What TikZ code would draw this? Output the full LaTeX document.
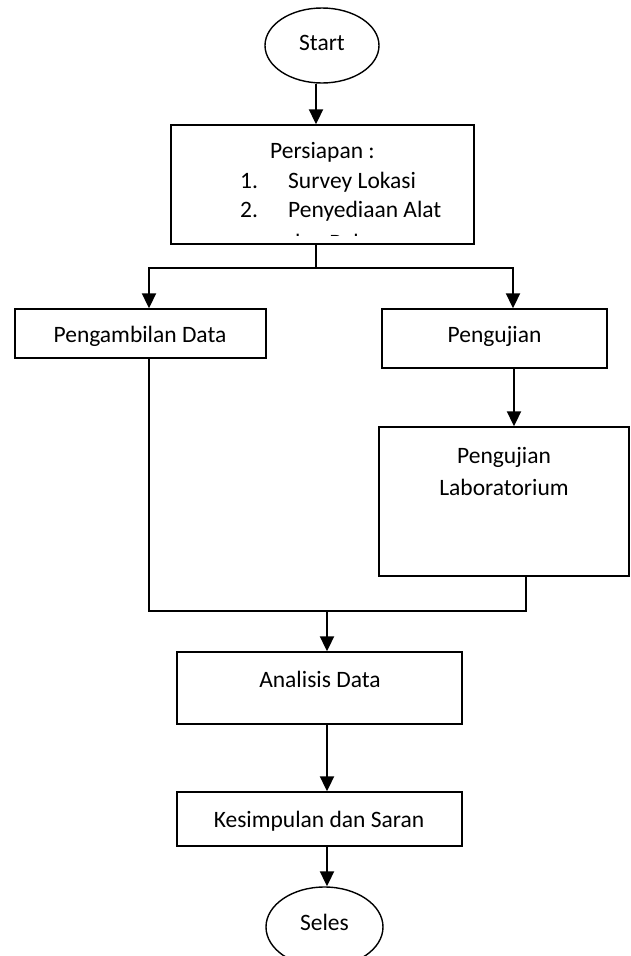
\documentclass[tikz,border=0pt]{standalone}
\usepackage{fontspec}
\setmainfont{Carlito}
\usetikzlibrary{arrows.meta,shapes.geometric}
\begin{document}
\begin{tikzpicture}[x=1pt,y=-1pt,
  box/.style={draw, line width=1.4pt, rectangle, inner sep=0pt},
  term/.style={draw, line width=1.4pt, ellipse, inner sep=0pt},
  line/.style={line width=1.6pt},
  arr/.style={line width=2pt, -{Triangle[length=15pt,width=14pt]}},
  lbl/.style={anchor=base, inner sep=0pt, font=\fontsize{23.5pt}{29pt}\selectfont}]
\useasboundingbox (0,0) rectangle (630,956);

% shapes
\node[term, minimum width=114pt, minimum height=75pt] (start) at (322,45.5) {};
\node[box, minimum width=303pt, minimum height=119pt] (prep) at (322.5,184.5) {};
\node[box, minimum width=251pt, minimum height=49pt] (pd) at (140.5,333.5) {};
\node[box, minimum width=225pt, minimum height=59pt] (pu) at (494.5,338.5) {};
\node[box, minimum width=250pt, minimum height=149pt] (lab) at (504,501.5) {};
\node[box, minimum width=285pt, minimum height=72pt] (an) at (319.5,688) {};
\node[box, minimum width=285pt, minimum height=54pt] (ks) at (319.5,819) {};
\node[term, minimum width=117pt, minimum height=80pt] (seles) at (324.5,927) {};

% texts
\node[lbl] (tstart) at (322,50) {Start};
\begin{scope}
  \clip (172,126) rectangle (473,235);
  \node[lbl] (tprep) at (322.5,158) {Persiapan :};
  \node[lbl, anchor=base west] (n1) at (240,188) {1.};
  \node[lbl, anchor=base west] (s1) at (288,188) {Survey Lokasi};
  \node[lbl, anchor=base west] (n2) at (240,217) {2.};
  \node[lbl, anchor=base west] (s2) at (288,217) {Penyediaan Alat};
  \node[lbl, anchor=base west] (s3) at (288,250) {dan Bahan};
\end{scope}
\node[lbl] (tpd) at (140,342) {Pengambilan Data};
\node[lbl] (tpu) at (494.5,342) {Pengujian};
\node[lbl] (tlab1) at (504,463) {Pengujian};
\node[lbl] (tlab2) at (504,495) {Laboratorium};
\node[lbl] (tan) at (320,687) {Analisis Data};
\node[lbl] (tks) at (319,827) {Kesimpulan dan Saran};
\node[lbl] (tse) at (324.5,930) {Seles};

% connectors
\coordinate (split) at (316,268);
\coordinate (merge) at (327,611);
\draw[arr] ([xshift=-6pt]start.south) -- ([xshift=-6pt]start.south |- prep.north);
\draw[line] ([xshift=-6.5pt]prep.south) -- (split);
\draw[arr] (split) -| ([xshift=8.5pt]pd.north);
\draw[arr] (split) -| ([xshift=18.5pt]pu.north);
\draw[arr] ([xshift=19.5pt]pu.south) -- ([xshift=19.5pt]pu.south |- lab.north);
\draw[line] ([xshift=8.5pt]pd.south) |- ([xshift=22pt]lab.south |- merge) -- ([xshift=22pt]lab.south);
\draw[arr] (merge) -- (merge |- an.north);
\draw[arr] ([xshift=7.5pt]an.south) -- ([xshift=7.5pt]an.south |- ks.north);
\draw[arr] ([xshift=7.5pt]ks.south) -- ([xshift=7.5pt]ks.south |- seles.north);
\end{tikzpicture}
\end{document}
